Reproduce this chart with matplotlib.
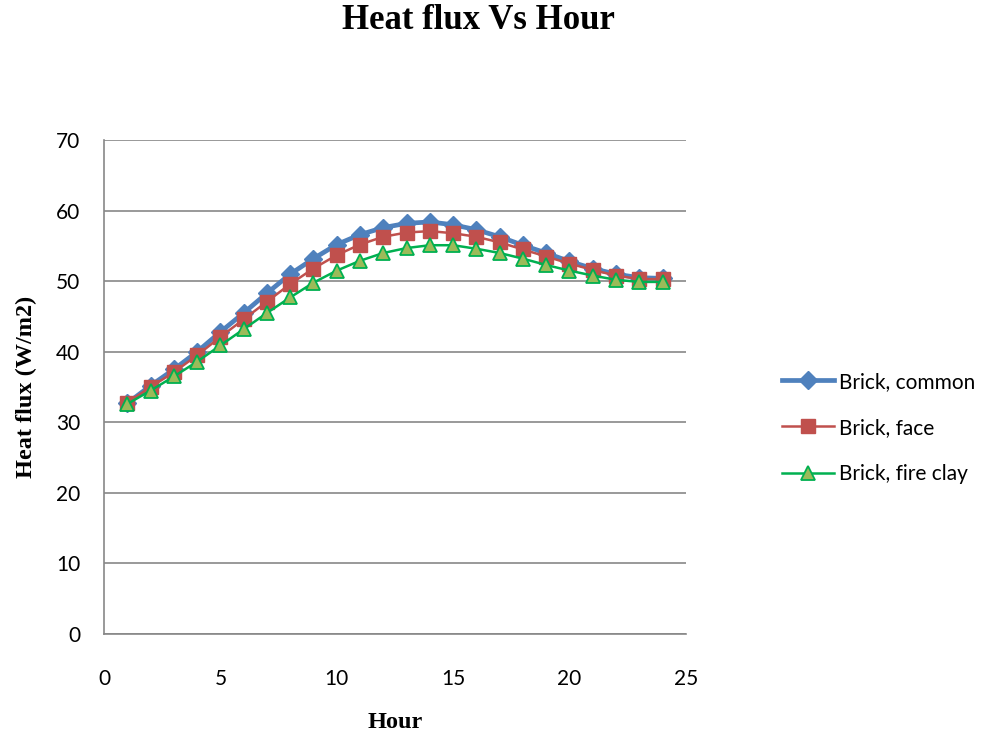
import numpy as np
import matplotlib.pyplot as plt

# Hourly heat flux readings for three brick types
hours = list(range(1, 25))
brick_common = [32.7, 35.2, 37.5, 40.0, 42.8, 45.5, 48.3, 51.0, 53.2, 55.2, 56.6, 57.6,
                58.2, 58.4, 58.0, 57.3, 56.3, 55.1, 54.0, 52.8, 51.8, 51.0, 50.5, 50.4]
brick_face = [32.8, 35.0, 37.1, 39.5, 42.1, 44.6, 47.1, 49.6, 51.8, 53.7, 55.2, 56.3,
              56.9, 57.1, 56.8, 56.3, 55.5, 54.5, 53.5, 52.5, 51.6, 50.8, 50.3, 50.3]
brick_fire_clay = [32.6, 34.5, 36.5, 38.6, 40.9, 43.2, 45.5, 47.7, 49.8, 51.5, 52.9, 54.0,
                   54.7, 55.1, 55.1, 54.6, 54.0, 53.2, 52.3, 51.5, 50.8, 50.2, 49.9, 49.9]

fig = plt.figure(figsize=(9.91, 7.35), dpi=100)
ax = fig.add_axes([0.105, 0.1374, 0.587, 0.672])

ax.plot(hours, brick_common, color='#4F81BD', lw=3.4, marker='D', ms=9,
        label='Brick, common', zorder=3)
ax.plot(hours, brick_face, color='#C0504D', lw=1.8, marker='s', ms=10,
        label='Brick, face', zorder=4)
ax.plot(hours, brick_fire_clay, color='#00B050', lw=1.8, marker='^', ms=10,
        markerfacecolor='#9BBB59', markeredgecolor='#00B050', markeredgewidth=1.3,
        label='Brick, fire clay', zorder=5)

ax.set_xlim(0, 25)
ax.set_ylim(0, 70)
ax.set_xticks(np.arange(0, 26, 5))
ax.set_yticks(np.arange(0, 71, 10))
ax.grid(axis='y', color='#878787', lw=1.2)
ax.set_axisbelow(True)
for side in ['top', 'right']:
    ax.spines[side].set_visible(False)
for side in ['left', 'bottom']:
    ax.spines[side].set_color('#878787')
    ax.spines[side].set_linewidth(1.2)
ax.tick_params(axis='both', length=0, labelsize=15)
for lab in ax.get_xticklabels() + ax.get_yticklabels():
    lab.set_fontfamily('Lato')
ax.tick_params(axis='x', pad=25)
ax.tick_params(axis='y', pad=17)

serif = 'Liberation Serif'
fig.text(0.483, 0.972, 'Heat flux Vs Hour', ha='center', va='center',
         fontsize=25, fontweight='bold', family=serif)
ax.set_xlabel('Hour', fontsize=17.5, fontweight='bold', family=serif, labelpad=17)
ax.set_ylabel('Heat flux (W/m2)', fontsize=17.5, fontweight='bold', family=serif, labelpad=14)

leg = fig.legend(loc='center left', bbox_to_anchor=(0.770, 0.418), frameon=False,
                 prop={'family': 'Lato', 'size': 15}, handlelength=2.5,
                 handletextpad=0.25, labelspacing=1.25)

fig.savefig('out.png', dpi=100)
